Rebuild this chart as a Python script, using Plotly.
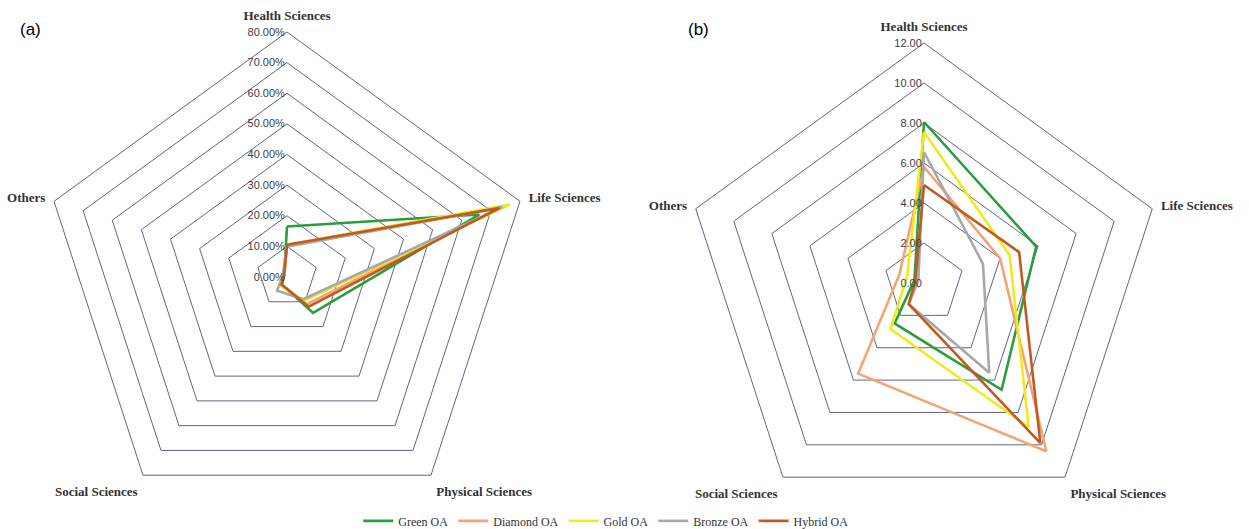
import plotly.graph_objects as go

# Subject areas (clockwise from the top)
categories = ["Health Sciences", "Life Sciences", "Physical Sciences",
              "Social Sciences", "Others"]

series_names = ["Green OA", "Diamond OA", "Gold OA", "Bronze OA", "Hybrid OA"]
series_colors = ["#2a9d3c", "#f2a472", "#f0ea1c", "#a8a8a8", "#c05a22"]

# (a) share of publications per subject area (%)
share_green = [16.5, 66.0, 14.5, 3.0, 1.0]
share_diamond = [10.0, 73.0, 11.0, 3.0, 1.0]
share_gold = [10.5, 76.5, 9.5, 3.5, 1.0]
share_bronze = [10.0, 74.0, 9.0, 5.5, 1.5]
share_hybrid = [10.5, 73.0, 12.0, 3.0, 1.0]

# (b) values per subject area
val_green = [8.05, 5.9, 6.6, 2.5, 0.5]
val_diamond = [5.8, 4.0, 10.4, 5.6, 1.3]
val_gold = [7.55, 4.5, 8.9, 2.85, 0.9]
val_bronze = [6.55, 3.1, 5.55, 1.3, 0.3]
val_hybrid = [4.9, 5.0, 9.9, 1.3, 0.45]

share_series = [share_green, share_diamond, share_gold, share_bronze, share_hybrid]
val_series = [val_green, val_diamond, val_gold, val_bronze, val_hybrid]

GRID = "#60658a"
TEXT = "#333333"
SERIF = "Liberation Serif"
SANS = "Liberation Sans"

fig = go.Figure()

def closed(seq):
    return list(seq) + [seq[0]]

for name, color, vals in zip(series_names, series_colors, share_series):
    fig.add_trace(go.Scatterpolar(
        r=closed(vals), theta=closed(categories), mode="lines",
        name=name, line=dict(color=color, width=2.6),
        subplot="polar", showlegend=True))

for name, color, vals in zip(series_names, series_colors, val_series):
    fig.add_trace(go.Scatterpolar(
        r=closed(vals), theta=closed(categories), mode="lines",
        name=name, line=dict(color=color, width=2.6),
        subplot="polar2", showlegend=False))

def polar_layout(domain_x, domain_y, rng, dtick, fmt, suffix):
    return dict(
        domain=dict(x=domain_x, y=domain_y),
        gridshape="linear",
        bgcolor="white",
        angularaxis=dict(
            direction="clockwise", rotation=90,
            showgrid=False, showline=True, linecolor=GRID, linewidth=1,
            # invisible ticks just pad the category labels away from the rim
            ticks="outside", ticklen=6, tickcolor="rgba(0,0,0,0)",
            tickfont=dict(family=SERIF, size=13, color=TEXT, weight="bold"),
        ),
        radialaxis=dict(
            range=rng, dtick=dtick, tick0=0, angle=90, tickangle=90,
            side="counterclockwise",
            showline=False, ticks="", showgrid=True,
            gridcolor=GRID, gridwidth=1,
            tickformat=fmt, ticksuffix=suffix,
            tickfont=dict(family=SANS, size=11, color="#404040"),
        ),
    )

W, H = 1249, 529

def dom(cx, cy, r):
    return ([(cx - r) / W, (cx + r) / W],
            [(H - cy - r) / H, (H - cy + r) / H])

ax_a, ay_a = dom(287, 277, 245)
ax_b, ay_b = dom(924, 283, 240)

fig.update_layout(
    width=W, height=H,
    margin=dict(l=0, r=0, t=0, b=0, autoexpand=False),
    paper_bgcolor="white",
    polar=polar_layout(ax_a, ay_a, [0, 80], 10, ".2f", "%"),
    polar2=polar_layout(ax_b, ay_b, [0, 12], 2, ".2f", ""),
    legend=dict(
        orientation="h", x=0.485, xanchor="center", y=-0.012, yanchor="bottom",
        font=dict(family=SERIF, size=12, color=TEXT),
        itemwidth=30, bgcolor="rgba(0,0,0,0)",
    ),
    annotations=[
        dict(text="(a)", x=18 / W, y=1 - 30 / H, xref="paper", yref="paper",
             showarrow=False, xanchor="left", yanchor="middle",
             font=dict(family=SANS, size=17, color="black")),
        dict(text="(b)", x=686 / W, y=1 - 30 / H, xref="paper", yref="paper",
             showarrow=False, xanchor="left", yanchor="middle",
             font=dict(family=SANS, size=17, color="black")),
    ],
)

fig.write_html("out.html")
